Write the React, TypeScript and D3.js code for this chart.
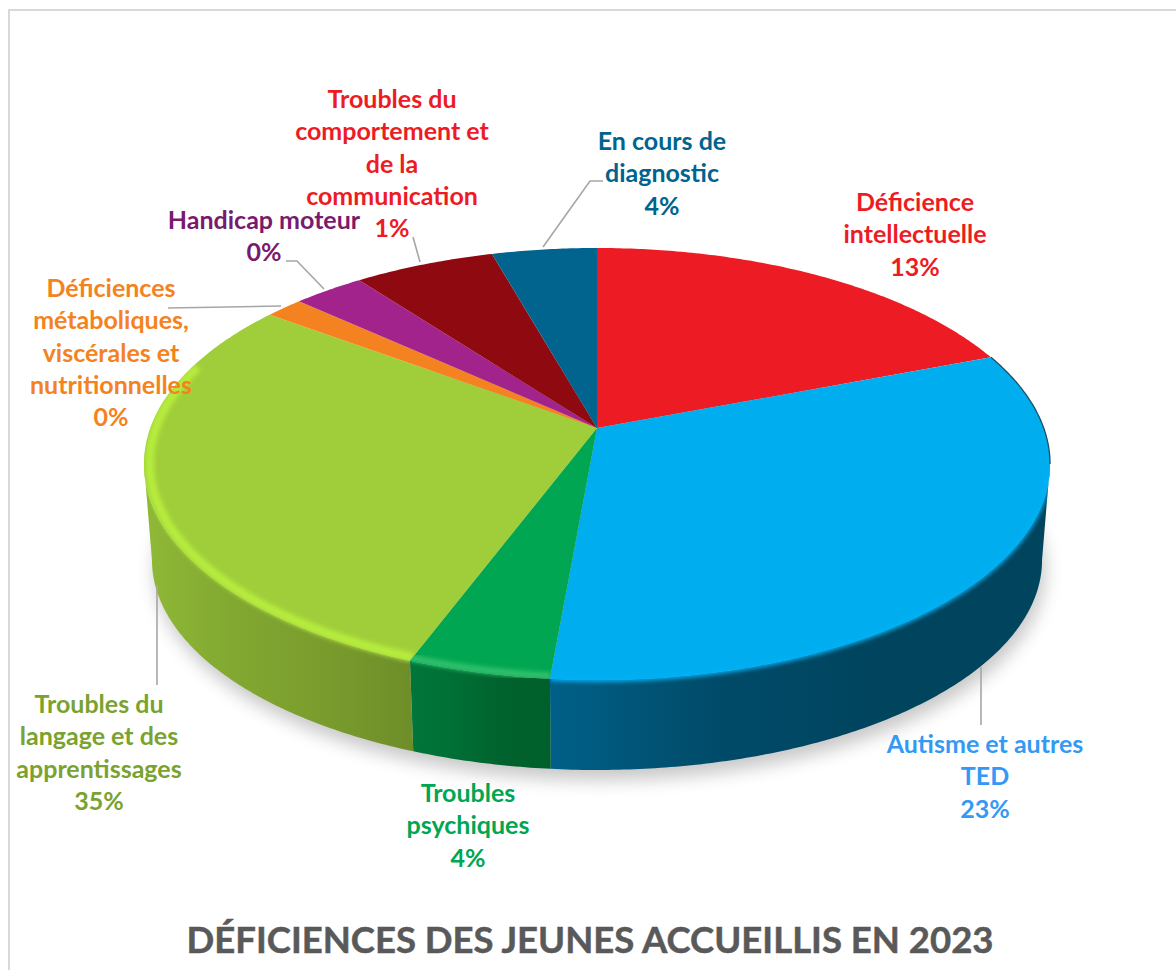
import React from "react";
import * as d3 from "d3";

// ---- data ----
const categories = [
  "Déficience intellectuelle",
  "Autisme et autres TED",
  "Troubles psychiques",
  "Troubles du langage et des apprentissages",
  "Déficiences métaboliques, viscérales et nutritionnelles",
  "Handicap moteur",
  "Troubles du comportement et de la communication",
  "En cours de diagnostic",
];
const sliceValues = [19.2, 32.2, 4.35, 29.35, 1.6, 3.0, 5.9, 4.4];
const shownPercents = ["13%", "23%", "4%", "35%", "0%", "0%", "1%", "4%"];

// ---- label layout ----
const labelLines = [
  ["Déficience", "intellectuelle"],
  ["Autisme et autres", "TED"],
  ["Troubles", "psychiques"],
  ["Troubles du", "langage et des", "apprentissages"],
  ["Déficiences", "métaboliques,", "viscérales et", "nutritionnelles"],
  ["Handicap moteur"],
  ["Troubles du", "comportement et", "de la", "communication"],
  ["En cours de", "diagnostic"],
];
const labelX = [915, 985, 468, 99, 111, 264, 392, 662];
const labelY = [210.7, 752.7, 801.7, 712.7, 296.7, 228.7, 107.7, 149.7];
const labelColors = ["#ed1c24", "#3399f5", "#00a651", "#7aa22f", "#f58220", "#7a1a6e", "#ed1c24", "#00648f"];
const leaders = [
  [[981, 667], [981, 725]],
  [[157, 585], [157, 685]],
  [[281, 306], [168, 308]],
  [[324, 289], [297, 261], [286, 261]],
  [[420, 262], [413, 237]],
  [[543, 247], [590, 181], [603, 181]],
];

// ---- styles ----
const topColors = ["#ed1c24", "#00adef", "#00a651", "#a0ce3a", "#f58220", "#a1238b", "#8f0a10", "#00648f"];
const wallStops: (string[] | null)[] = [
  null,
  ["#006088", "#004b69", "#00445e", "#00445e"],
  ["#00763a", "#006f35", "#00622e", "#00602c"],
  ["#8fb936", "#82a831", "#7a9c2d", "#6e8e29"],
  null, null, null, null,
];
const rimColors: (string | null)[] = [null, "#00b0f3", "#30c06c", "#b6ec3e", null, null, null, null];
const rimWidths = [0, 5, 7, 9, 0, 0, 0, 0];
const rimRadii = [1, 0.998, 0.99, 0.988, 1, 1, 1, 1];
const rimTo = [0, 185, 201, 288, 0, 0, 0, 0]; // end of the lit edge, degrees

// ---- projection of the disc ----
const CX = 597, CY = 428, P = 1 / 6, A = 446.7, B = 210;
const ELL_CY = 464, FOOT_CY = 560, FOOT_SX = 445 / 453, FOOT_SY = 210 / 216;
const SIL = Math.asin(P); // angle past the side where the outline turns back
const frontFrom = Math.PI / 2 + SIL;
const frontTo = (3 * Math.PI) / 2 - SIL;
const project = (angle: number, r: number, h: number): [number, number] => {
  const u = Math.sin(angle) * r, v = Math.cos(angle) * r;
  const w = 1 + P * v;
  const x = CX + (A * u) / w;
  const y = CY - (B * v) / w;
  if (!h) return [x, y];
  return [CX + (x - CX) * FOOT_SX, FOOT_CY + (y - ELL_CY) * FOOT_SY];
};
const samples = (a0: number, a1: number) => {
  const n = Math.max(2, Math.ceil(Math.abs(a1 - a0) / 0.01));
  return d3.range(n + 1).map((i) => a0 + ((a1 - a0) * i) / n);
};
const line = d3.line();
const rad = (deg: number) => (deg * Math.PI) / 180;

const arcs = d3.pie<number>().sort(null).value((d) => d)(sliceValues);

const topPath = (a: d3.PieArcDatum<number>) =>
  line([project(0, 0, 0), ...samples(a.startAngle, a.endAngle).map((t) => project(t, 1, 0))]) + "Z";
const wallPath = (a: d3.PieArcDatum<number>) => {
  const a0 = Math.max(a.startAngle, frontFrom);
  const a1 = Math.min(a.endAngle, frontTo);
  if (a1 <= a0) return "";
  const s = samples(a0, a1);
  return line([...s.map((t) => project(t, 1, 0)), ...s.slice().reverse().map((t) => project(t, 1, 1))]) + "Z";
};
const edgePath = (a0: number, a1: number, r = 1) =>
  line(samples(a0, a1).map((t) => project(t, r, 0))) as string;
const footPath = line(samples(0, 2 * Math.PI).map((t) => project(t, 1, 1))) + "Z";

const font = "Lato, 'Open Sans', sans-serif";
const LABEL_SIZE = 25;
const LINE_STEP = 32.4;

export default function App() {
  return (
    <svg
      width={1176}
      height={970}
      viewBox="0 0 1176 970"
      style={{ position: "absolute", left: 0, top: 0, background: "#fff" }}
    >
      <defs>
        <filter id="shadow" x="-10%" y="-10%" width="120%" height="130%">
          <feGaussianBlur stdDeviation="9" />
        </filter>
        <filter id="soft" x="-10%" y="-10%" width="120%" height="120%">
          <feGaussianBlur stdDeviation="2.2" />
        </filter>
        <filter id="softer" x="-10%" y="-10%" width="120%" height="120%">
          <feGaussianBlur stdDeviation="0.6" />
        </filter>
        {arcs.map((a, i) => {
          const stops = wallStops[i];
          if (!stops) return null;
          const xs = samples(Math.max(a.startAngle, frontFrom), Math.min(a.endAngle, frontTo)).map(
            (t) => project(t, 1, 0)[0]
          );
          return (
            <linearGradient
              key={i}
              id={`wall${i}`}
              gradientUnits="userSpaceOnUse"
              x1={d3.min(xs)}
              x2={d3.max(xs)}
              y1={0}
              y2={0}
            >
              {stops.map((c, k) => (
                <stop key={k} offset={k / (stops.length - 1)} stopColor={c} />
              ))}
            </linearGradient>
          );
        })}
        {arcs.map((a, i) => (
          <clipPath key={i} id={`clip${i}`}>
            <path d={topPath(a)} />
            <path d={wallPath(a)} />
          </clipPath>
        ))}
      </defs>

      <rect x={9} y={10} width={1300} height={1300} fill="none" stroke="#d9d9d9" strokeWidth={2} />

      <path d={footPath} transform="translate(3,10)" fill="#000" opacity={0.22} filter="url(#shadow)" />

      {arcs.map((a, i) =>
        wallStops[i] ? <path key={i} d={wallPath(a)} fill={`url(#wall${i})`} /> : null
      )}
      {arcs.map((a, i) => (
        <path key={i} d={topPath(a)} fill={topColors[i]} />
      ))}

      {/* lit bevel along the front edge */}
      {arcs.map((a, i) => {
        const c = rimColors[i];
        if (!c) return null;
        return (
          <g key={i} clipPath={`url(#clip${i})`}>
            <path
              d={edgePath(Math.max(a.startAngle, frontFrom), rad(rimTo[i]), rimRadii[i])}
              fill="none"
              stroke={c}
              strokeWidth={rimWidths[i]}
              filter="url(#soft)"
            />
          </g>
        );
      })}
      <path
        d={edgePath(arcs[1].startAngle, frontFrom)}
        fill="none"
        stroke="#1d4f66"
        strokeWidth={1.3}
        filter="url(#softer)"
      />

      {leaders.map((pts, i) => (
        <path
          key={i}
          d={line(pts as [number, number][]) as string}
          fill="none"
          stroke="#a6a6a6"
          strokeWidth={1.6}
        />
      ))}

      {categories.map((name, i) => (
        <text
          key={name}
          x={labelX[i]}
          y={labelY[i]}
          fill={labelColors[i]}
          fontFamily={font}
          fontWeight={700}
          fontSize={LABEL_SIZE}
          textAnchor="middle"
        >
          {labelLines[i].map((l, k) => (
            <tspan key={k} x={labelX[i]} y={labelY[i] + k * LINE_STEP}>
              {l}
            </tspan>
          ))}
          <tspan x={labelX[i]} y={labelY[i] + labelLines[i].length * LINE_STEP}>
            {shownPercents[i]}
          </tspan>
        </text>
      ))}

      <text
        x={590}
        y={953}
        fill="#595959"
        stroke="#595959"
        strokeWidth={0.5}
        fontFamily={font}
        fontWeight={700}
        fontSize={36.5}
        textAnchor="middle"
      >
        DÉFICIENCES DES JEUNES ACCUEILLIS EN 2023
      </text>
    </svg>
  );
}
